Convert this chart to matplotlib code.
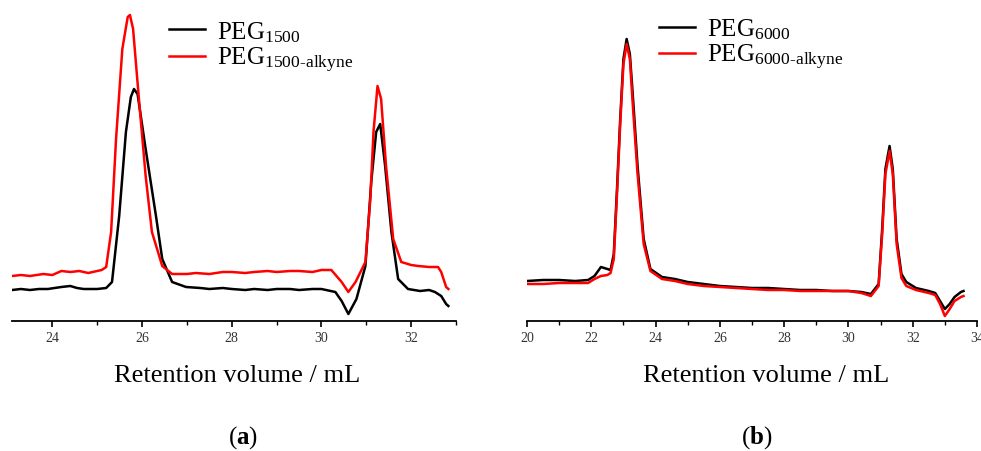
import matplotlib
matplotlib.use("Agg")
import matplotlib.pyplot as plt
import numpy as np

plt.rcParams['font.family'] = ['Liberation Serif', 'DejaVu Serif']
plt.rcParams['mathtext.fontset'] = 'custom'
plt.rcParams['mathtext.rm'] = 'Liberation Serif'
plt.rcParams['mathtext.it'] = 'Liberation Serif:italic'
plt.rcParams['mathtext.bf'] = 'Liberation Serif:bold'

# GPC traces, retention volume (mL) vs detector signal (a.u.)
# (a) PEG1500
vol_1500 = [23.1, 23.3, 23.5, 23.7, 23.9, 24.2, 24.4, 24.55, 24.7, 25.0, 25.2, 25.33, 25.49,
            25.64, 25.75, 25.82, 25.9, 26.08, 26.31, 26.45, 26.67, 26.98, 27.3, 27.5, 27.8,
            28.0, 28.3, 28.5, 28.8, 29.0, 29.3, 29.5, 29.8, 30.0, 30.31, 30.45, 30.6,
            30.78, 30.98, 31.11, 31.22, 31.31, 31.42, 31.56, 31.71, 31.93, 32.2, 32.4,
            32.53, 32.67, 32.78, 32.83]
sig_1500 = [31, 32, 31, 32, 32, 34, 35, 33, 32, 32, 33, 39, 105,
            189, 224, 232, 227, 172, 105, 62, 39, 34, 33, 32, 33,
            32, 31, 32, 31, 32, 32, 31, 32, 32, 29, 20, 7,
            22, 55, 139, 189, 197, 155, 89, 42, 32, 30, 31,
            29, 25, 17, 15]

vol_1500_alk = [23.1, 23.3, 23.5, 23.8, 24.0, 24.2, 24.4, 24.6, 24.8, 25.0, 25.1, 25.2, 25.31,
                25.42, 25.56, 25.68, 25.73, 25.8, 25.93, 26.08, 26.22, 26.45, 26.67, 27.0,
                27.2, 27.5, 27.8, 28.0, 28.3, 28.5, 28.8, 29.0, 29.3, 29.5, 29.8, 30.0,
                30.22, 30.45, 30.6, 30.76, 30.98, 31.09, 31.16, 31.25, 31.33, 31.44, 31.6,
                31.78, 32.0, 32.16, 32.4, 32.6, 32.67, 32.78, 32.83]
sig_1500_alk = [45, 46, 45, 47, 46, 50, 49, 50, 48, 50, 51, 54, 89,
                182, 272, 304, 306, 292, 222, 145, 89, 55, 47, 47,
                48, 47, 49, 49, 48, 49, 50, 49, 50, 50, 49, 51,
                51, 39, 29, 39, 59, 122, 189, 235, 222, 155, 82,
                59, 56, 55, 54, 54, 49, 34, 32]

# (b) PEG6000
vol_6000 = [20.0, 20.5, 21.0, 21.5, 21.9, 22.1, 22.3, 22.5, 22.6, 22.7, 22.8, 22.9,
            23.0, 23.1, 23.2, 23.3, 23.44, 23.63, 23.84, 24.2, 24.6, 25.0, 25.5, 26.0,
            26.5, 27.0, 27.5, 28.0, 28.5, 29.0, 29.5, 30.0, 30.4, 30.7, 30.94, 31.05,
            31.15, 31.28, 31.38, 31.5, 31.65, 31.8, 32.1, 32.5, 32.7, 32.85, 33.0, 33.15,
            33.3, 33.5, 33.58]
sig_6000 = [40, 41, 41, 40, 41, 45, 54, 52, 51, 67, 132, 202,
            262, 282, 267, 222, 155, 82, 52, 44, 42, 39, 37, 35,
            34, 33, 33, 32, 31, 31, 30, 30, 29, 27, 37, 92,
            152, 175, 152, 82, 47, 39, 33, 30, 28, 20, 12, 17,
            24, 29, 30]

vol_6000_alk = [20.0, 20.5, 21.0, 21.5, 21.9, 22.1, 22.3, 22.5, 22.6, 22.7, 22.8, 22.9,
                23.0, 23.1, 23.2, 23.3, 23.44, 23.63, 23.84, 24.2, 24.6, 25.0, 25.5, 26.0,
                26.5, 27.0, 27.5, 28.0, 28.5, 29.0, 29.5, 30.0, 30.4, 30.7, 30.94, 31.05,
                31.15, 31.28, 31.38, 31.5, 31.65, 31.8, 32.1, 32.5, 32.7, 32.85, 33.0, 33.15,
                33.3, 33.5, 33.58]
sig_6000_alk = [37, 37, 38, 38, 38, 42, 45, 46, 48, 62, 127, 197,
                257, 277, 262, 212, 147, 77, 50, 42, 40, 37, 35, 34,
                33, 32, 31, 31, 30, 30, 30, 30, 28, 25, 35, 87,
                147, 170, 147, 77, 43, 35, 31, 28, 26, 17, 5, 12,
                20, 24, 25]

fig = plt.figure(figsize=(9.81, 4.52), dpi=100)
ax1 = fig.add_axes([12/981, 130/452, 444/981, 312/452])
ax2 = fig.add_axes([527/981, 130/452, 450/981, 312/452])


def style_axis(ax, xmin, xmax):
    ax.set_xlim(xmin, xmax)
    ax.set_ylim(0, 312)
    for side in ['left', 'right', 'top']:
        ax.spines[side].set_visible(False)
    ax.spines['bottom'].set_linewidth(1.3)
    ax.set_yticks([])
    ax.set_xticks(np.arange(np.ceil(xmin / 2) * 2, xmax + 0.01, 2))
    ax.set_xticks(np.arange(np.ceil(xmin), xmax + 0.01, 1), minor=True)
    ax.tick_params(axis='x', which='major', length=4.5, width=1.2, labelsize=10, pad=2.5,
                   labelcolor='#333333')
    ax.tick_params(axis='x', which='minor', length=3, width=1.0)


ax1.plot(vol_1500, sig_1500, color='black', lw=1.8, label=r'PEG$_{\mathrm{1500}}$')
ax1.plot(vol_1500_alk, sig_1500_alk, color='red', lw=1.8,
         label=r'PEG$_{\mathrm{1500\text{-}alkyne}}$')
style_axis(ax1, 23.1, 33.0)
ax1.legend(loc='upper left', bbox_to_anchor=(0.33, 1.0), frameon=False, fontsize=18,
           handlelength=1.45, handletextpad=0.5, labelspacing=0.05, borderaxespad=0)

ax2.plot(vol_6000, sig_6000, color='black', lw=1.8, label=r'PEG$_{\mathrm{6000}}$')
ax2.plot(vol_6000_alk, sig_6000_alk, color='red', lw=1.8,
         label=r'PEG$_{\mathrm{6000\text{-}alkyne}}$')
style_axis(ax2, 20, 34)
ax2.legend(loc='upper left', bbox_to_anchor=(0.27, 1.008), frameon=False, fontsize=18,
           handlelength=1.45, handletextpad=0.5, labelspacing=0.05, borderaxespad=0)

fig.text(237/981, 1 - 376/452, 'Retention volume / mL', ha='center', va='center', fontsize=19)
fig.text(766/981, 1 - 376/452, 'Retention volume / mL', ha='center', va='center', fontsize=19)
fig.text(243/981, 1 - 438/452, r'($\mathbf{a}$)', ha='center', va='center', fontsize=18)
fig.text(757/981, 1 - 438/452, r'($\mathbf{b}$)', ha='center', va='center', fontsize=18)

fig.savefig('out.png', dpi=100)
